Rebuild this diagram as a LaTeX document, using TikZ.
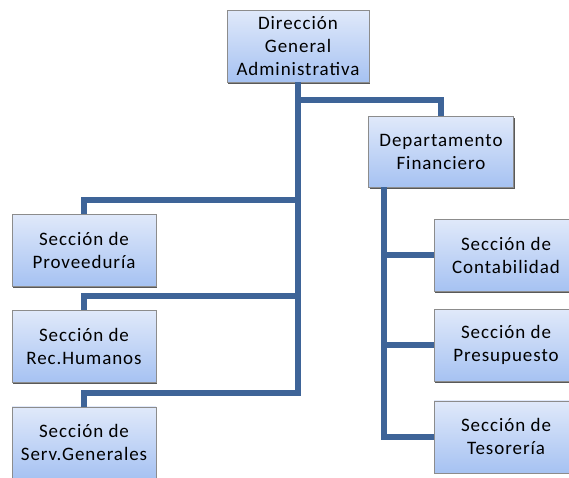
\documentclass[tikz,border=0pt]{standalone}
\usepackage{fontspec}
\setmainfont{Carlito}[LetterSpace=5]
\usetikzlibrary{positioning,shadows}
\definecolor{orgline}{RGB}{62,100,152}
\definecolor{boxtop}{RGB}{224,233,250}
\definecolor{boxbottom}{RGB}{166,194,242}
\tikzset{
    org-box/.style = {draw=gray!90, thin, rectangle, top color=boxtop, bottom color=boxbottom, minimum width=144pt, minimum height=72pt, inner sep=1pt, align=center, font=\fontsize{19}{23}\selectfont, drop shadow={shadow xshift=1pt, shadow yshift=-1.5pt, fill=gray!70!black, opacity=1}},
    org-line/.style = {draw=orgline, line width=6pt},
}

\begin{document}
\begin{tikzpicture}[x=1pt,y=-1pt]
\useasboundingbox (0,0) rectangle (569,477);
\node[org-box, minimum width=142pt] (dir) at (298,46) {Dirección\\General\\Administrativa};
\node[org-box, minimum width=145pt, minimum height=71pt] (dept) at (441,151.5) {Departamento\\Financiero};
\node[org-box] (prov) at (84,250) {Sección de\\Proveeduría};
\node[org-box, below=24pt of prov] (rec) {Sección de\\Rec.Humanos};
\node[org-box, below=24pt of rec] (serv) {Sección de\\Serv.Generales};
\node[org-box] (cont) at (506,255) {Sección de\\Contabilidad};
\node[org-box, below=18pt of cont] (pres) {Sección de\\Presupuesto};
\node[org-box, below=19pt of pres] (teso) {Sección de\\Tesorería};

\coordinate (p1) at ([yshift=14pt]prov.north);
\coordinate (r1) at ([yshift=14pt]rec.north);
\coordinate (s1) at ([yshift=14pt]serv.north);
\coordinate (d0) at ([yshift=16pt]dept.north);
\coordinate (d1) at ([xshift=16pt]dept.south west);
\draw[org-line] (dir.south) -- (dir.south |- s1) -| (serv.north);
\draw[org-line] (dir.south |- p1) -| (prov.north);
\draw[org-line] (dir.south |- r1) -| (rec.north);
\draw[org-line] (dir.south |- d0) -| (dept.north);
\draw[org-line] (d1) -- (d1 |- teso.west) -- (teso.west);
\foreach \sec in {cont,pres}
    \draw[org-line] (d1 |- \sec.west) -- (\sec.west);
\end{tikzpicture}
\end{document}
